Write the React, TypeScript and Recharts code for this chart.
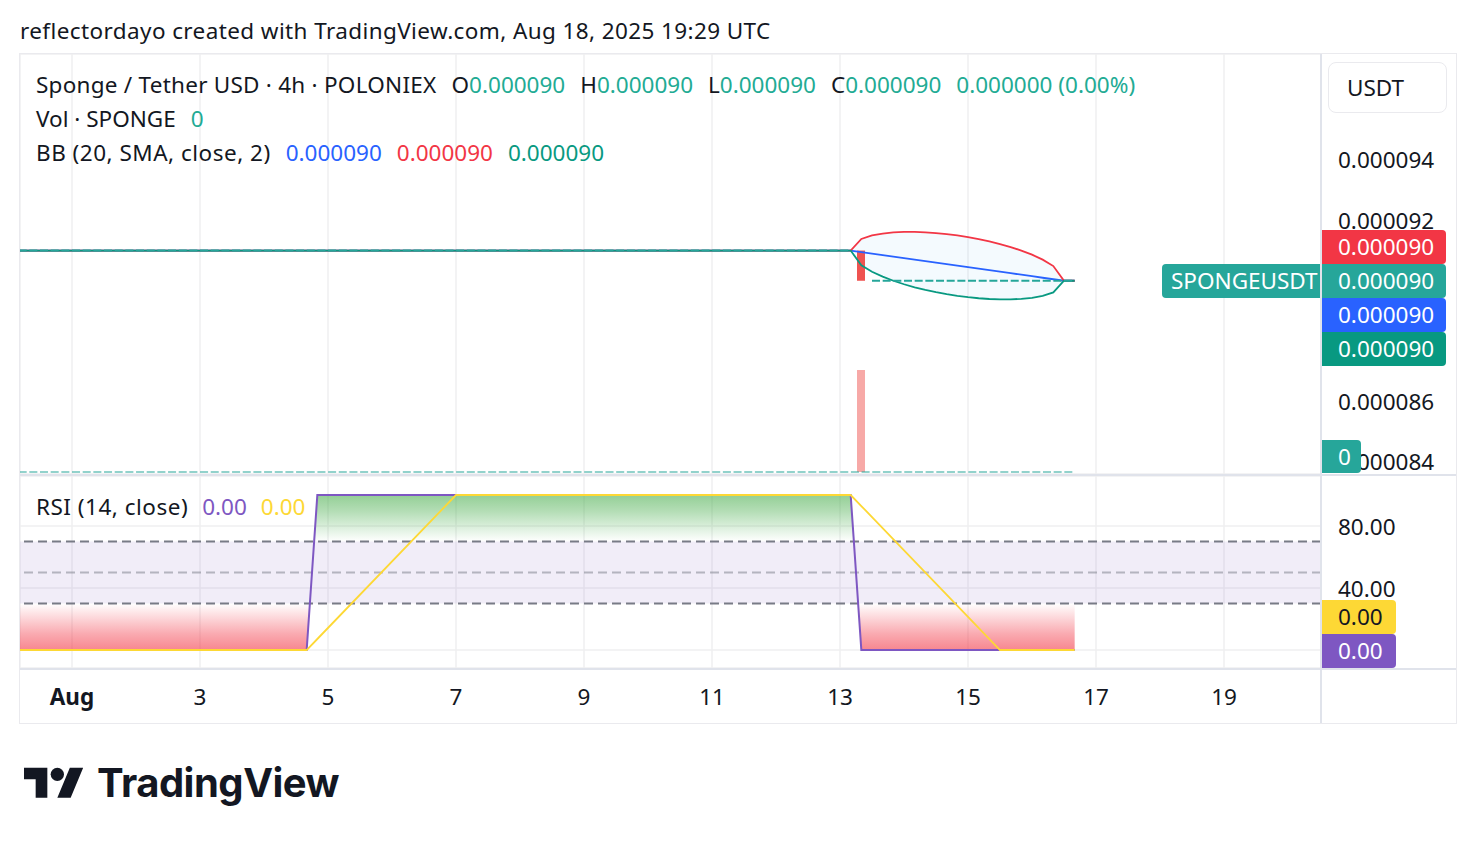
import React from "react";
import {
  ComposedChart,
  Line,
  Area,
  Bar,
  XAxis,
  YAxis,
  CartesianGrid,
  ReferenceArea,
  ReferenceLine,
} from "recharts";

const FONT = '"Noto Sans", "DejaVu Sans", sans-serif';
const TEXT = "#131722";
const FS = 22.5;

// ---------- time axis (days since Aug 1, 2025 00:00 UTC, 4h bars) ----------
const dayTicks = [0, 2, 4, 6, 8, 10, 12, 14, 16, 18];
const dayTickLabels = ["Aug", "3", "5", "7", "9", "11", "13", "15", "17", "19"];
const X_DOMAIN: [number, number] = [-0.8125, 19.5156];

// ---------- price pane (values in µUSDT) ----------
const bbTimes = [
  -1, 12.1667, 12.3333, 12.5, 12.6667, 12.8333, 13, 13.1667, 13.3333, 13.5, 13.6667,
  13.8333, 14, 14.1667, 14.3333, 14.5, 14.6667, 14.8333, 15, 15.1667, 15.3333, 15.5, 15.6667,
];
const bbUpper = [
  91, 91, 91.386, 91.5, 91.564, 91.6, 91.616, 91.617, 91.604, 91.58, 91.545, 91.5, 91.445,
  91.38, 91.304, 91.217, 91.116, 91.0, 90.864, 90.7, 90.486, 90, 90,
];
const bbBasis = [
  91, 91, 90.95, 90.9, 90.85, 90.8, 90.75, 90.7, 90.65, 90.6, 90.55, 90.5, 90.45, 90.4,
  90.35, 90.3, 90.25, 90.2, 90.15, 90.1, 90.05, 90, 90,
];
const bbLower = [
  91, 91, 90.514, 90.3, 90.136, 90.0, 89.884, 89.783, 89.696, 89.62, 89.555, 89.5, 89.455,
  89.42, 89.396, 89.383, 89.384, 89.4, 89.436, 89.5, 89.614, 90, 90,
];

const candleTimes = [12.3333];
const candleOpen = [91];
const candleClose = [90];

const flatBeforeTimes = [-1, 12.1667];
const flatBeforeClose = [91, 91];
const flatAfterTimes = [12.5, 15.6667];
const flatAfterClose = [90, 90];

const priceTicks = [84, 86, 88, 90, 92, 94, 96];
const priceTickLabelled = [84, 86, 92, 94];
const PRICE_DOMAIN: [number, number] = [83.6, 97.51];

// ---------- volume ----------
const volumeTimes = [12.3333];
const volumeValues = [1];
const zeroVolumeTimes = [-1, 15.6667];
const zeroVolumeValues = [0, 0];
const VOL_DOMAIN: [number, number] = [-0.0196, 4.098];

// ---------- RSI ----------
const rsiTimes = [-1, 3.6667, 3.8333, 6, 12.1667, 12.3333, 14.5, 15.6667];
const rsiValues = [0, 0, 100, 100, 100, 0, 0, 0];
const rsiMaValues = [0, 0, 7.1, 100, 100, 92.9, 0, 0];
const rsiTicks = [0, 40, 80];
const rsiTickLabelled = [40, 80];
const RSI_DOMAIN: [number, number] = [-11.61, 112.26];

// ---------- layout ----------
const CHART_LEFT = 20;
const CHART_W = 1436;
const AXIS_W = 135;
const MAIN_TOP = 54;
const MAIN_H = 420;
const RSI_TOP = 476;
const RSI_H = 192;
const TIME_H = 55;

const fmtPrice = (v: number) => (v / 1e6).toFixed(6);
const priceY = (v: number) =>
  MAIN_TOP + ((PRICE_DOMAIN[1] - v) / (PRICE_DOMAIN[1] - PRICE_DOMAIN[0])) * MAIN_H;
const rsiChartY = (v: number) => ((RSI_DOMAIN[1] - v) / (RSI_DOMAIN[1] - RSI_DOMAIN[0])) * RSI_H;

function buildRows(series: Array<[string, number[], any[]]>) {
  const map = new Map<number, any>();
  for (const [key, ts, vs] of series) {
    ts.forEach((t, i) => {
      const row = map.get(t) ?? { t };
      row[key] = vs[i];
      map.set(t, row);
    });
  }
  return Array.from(map.values()).sort((a, b) => a.t - b.t);
}

const mainData = buildRows([
  ["upper", bbTimes, bbUpper],
  ["basis", bbTimes, bbBasis],
  ["lower", bbTimes, bbLower],
  ["band", bbTimes, bbTimes.map((_, i) => [bbLower[i], bbUpper[i]])],
  ["candle", candleTimes, candleTimes.map((_, i) => [Math.min(candleOpen[i], candleClose[i]), Math.max(candleOpen[i], candleClose[i])])],
  ["flatBefore", flatBeforeTimes, flatBeforeClose],
  ["flatAfter", flatAfterTimes, flatAfterClose],
  ["vol", volumeTimes, volumeValues],
  ["zeroVol", zeroVolumeTimes, zeroVolumeValues],
]);

const rsiData = buildRows([
  ["rsi", rsiTimes, rsiValues],
  ["ma", rsiTimes, rsiMaValues],
]);

const PriceTick = (props: any) => {
  const { x, y, payload } = props;
  if (!priceTickLabelled.includes(payload.value)) return <g />;
  return (
    <text x={x + 17} y={y} dominantBaseline="central" fontSize={FS} fontFamily={FONT} fill={TEXT}>
      {fmtPrice(payload.value)}
    </text>
  );
};

const RsiTick = (props: any) => {
  const { x, y, payload } = props;
  if (!rsiTickLabelled.includes(payload.value)) return <g />;
  return (
    <text x={x + 17} y={y} dominantBaseline="central" fontSize={FS} fontFamily={FONT} fill={TEXT}>
      {payload.value.toFixed(2)}
    </text>
  );
};

const TimeTick = (props: any) => {
  const { x, y, payload } = props;
  const i = dayTicks.indexOf(payload.value);
  return (
    <text
      x={x}
      y={y + 28}
      textAnchor="middle"
      dominantBaseline="central"
      fontSize={FS}
      fontFamily={FONT}
      fontWeight={i === 0 ? 700 : 400}
      fill={TEXT}
    >
      {dayTickLabels[i]}
    </text>
  );
};

const abs = (s: React.CSSProperties): React.CSSProperties => ({ position: "absolute", ...s });

const Badge = ({ left, top, width, height = 34, bg, color = "#fff", text, radius = "0 4px 4px 0", pad = 16 }: any) => (
  <div
    style={abs({
      left,
      top,
      width,
      height,
      background: bg,
      color,
      borderRadius: radius,
      fontSize: FS,
      lineHeight: `${height}px`,
      paddingLeft: pad,
      boxSizing: "border-box",
      whiteSpace: "nowrap",
    })}
  >
    {text}
  </div>
);

const Seg = ({ children, color = TEXT, gap = 15, ls = 0 }: any) => (
  <span style={{ color, marginRight: gap, letterSpacing: ls }}>{children}</span>
);

export default function App() {
  const lastPrice = flatAfterClose[flatAfterClose.length - 1];
  const pc = priceY(lastPrice);
  const up = "#22AB94";
  const lastRsi = rsiValues[rsiValues.length - 1];
  const lastMa = rsiMaValues[rsiMaValues.length - 1];
  const lastUpper = bbUpper[bbUpper.length - 1];
  const lastBasis = bbBasis[bbBasis.length - 1];
  const lastLower = bbLower[bbLower.length - 1];
  const lastVol = zeroVolumeValues[zeroVolumeValues.length - 1];

  return (
    <div
      style={abs({
        left: 0,
        top: 0,
        width: 1476,
        height: 844,
        background: "#fff",
        fontFamily: FONT,
        color: TEXT,
        overflow: "hidden",
      })}
    >
      <div style={abs({ left: 20, top: 14, height: 34, lineHeight: "34px", fontSize: FS, letterSpacing: 0.4, whiteSpace: "nowrap" })}>
        reflectordayo created with TradingView.com, Aug 18, 2025 19:29 UTC
      </div>

      {/* frame */}
      <div style={abs({ left: 19, top: 53, width: 1438, height: 671, border: "1px solid #EAEAEE", boxSizing: "border-box" })} />

      {/* volume layer + grid */}
      <div style={abs({ left: CHART_LEFT, top: MAIN_TOP })}>
        <ComposedChart width={CHART_W} height={MAIN_H} data={mainData} margin={{ top: 0, right: 0, bottom: 0, left: 0 }}>
          <XAxis dataKey="t" type="number" domain={X_DOMAIN} ticks={dayTicks} interval={0} allowDataOverflow hide />
          <YAxis
            orientation="right"
            width={AXIS_W}
            type="number"
            domain={PRICE_DOMAIN}
            ticks={priceTicks}
            allowDataOverflow
            tick={false}
            axisLine={false}
            tickLine={false}
          />
          <YAxis yAxisId="v" type="number" domain={VOL_DOMAIN} allowDataOverflow hide />
          <CartesianGrid stroke="#EFEFF1" strokeWidth={1.5} />
          <Line
            yAxisId="v"
            dataKey="zeroVol"
            type="linear"
            stroke="rgba(38,166,154,0.5)"
            strokeWidth={2}
            strokeDasharray="8 2.67"
            dot={false}
            activeDot={false}
            connectNulls
            isAnimationActive={false}
          />
          <Bar yAxisId="v" dataKey="vol" barSize={8} fill="rgba(239,83,80,0.5)" isAnimationActive={false} />
        </ComposedChart>
      </div>

      {/* price layer */}
      <div style={abs({ left: CHART_LEFT, top: MAIN_TOP })}>
        <ComposedChart width={CHART_W} height={MAIN_H} data={mainData} margin={{ top: 0, right: 0, bottom: 0, left: 0 }}>
          <XAxis dataKey="t" type="number" domain={X_DOMAIN} ticks={dayTicks} interval={0} allowDataOverflow hide />
          <YAxis
            orientation="right"
            width={AXIS_W}
            type="number"
            domain={PRICE_DOMAIN}
            ticks={priceTicks}
            interval={0}
            allowDataOverflow
            tick={<PriceTick />}
            axisLine={false}
            tickLine={false}
            tickSize={0}
            tickMargin={0}
          />
          <Area dataKey="band" type="linear" fill="#2196F3" fillOpacity={0.05} stroke="none" connectNulls isAnimationActive={false} activeDot={false} />
          <Line dataKey="basis" type="linear" stroke="#2962FF" strokeWidth={1.8} dot={false} activeDot={false} connectNulls isAnimationActive={false} />
          <Line dataKey="upper" type="linear" stroke="#F23645" strokeWidth={1.8} dot={false} activeDot={false} connectNulls isAnimationActive={false} />
          <Line dataKey="lower" type="linear" stroke="#089981" strokeWidth={1.8} dot={false} activeDot={false} connectNulls isAnimationActive={false} />
          <Line dataKey="flatBefore" type="linear" stroke="#26A69A" strokeWidth={2} strokeDasharray="8 2.67" dot={false} activeDot={false} connectNulls isAnimationActive={false} />
          <Line dataKey="flatAfter" type="linear" stroke="#26A69A" strokeWidth={2} strokeDasharray="8 2.67" dot={false} activeDot={false} connectNulls isAnimationActive={false} />
          <Bar dataKey="candle" barSize={8} fill="#EF5350" isAnimationActive={false} />
        </ComposedChart>
      </div>

      {/* RSI pane + time axis */}
      <div style={abs({ left: CHART_LEFT, top: RSI_TOP })}>
        <ComposedChart width={CHART_W} height={RSI_H + TIME_H} data={rsiData} margin={{ top: 0, right: 0, bottom: 0, left: 0 }}>
          <defs>
            <linearGradient id="rsiUp" gradientUnits="userSpaceOnUse" x1="0" y1={rsiChartY(100)} x2="0" y2={rsiChartY(70)}>
              <stop offset="0" stopColor="#4CAF50" stopOpacity={1} />
              <stop offset="0.35" stopColor="#4CAF50" stopOpacity={0.7} />
              <stop offset="1" stopColor="#4CAF50" stopOpacity={0} />
            </linearGradient>
            <linearGradient id="rsiDown" gradientUnits="userSpaceOnUse" x1="0" y1={rsiChartY(30)} x2="0" y2={rsiChartY(0)}>
              <stop offset="0" stopColor="#F23645" stopOpacity={0} />
              <stop offset="0.65" stopColor="#F23645" stopOpacity={0.7} />
              <stop offset="1" stopColor="#F23645" stopOpacity={1} />
            </linearGradient>
          </defs>
          <XAxis
            dataKey="t"
            type="number"
            domain={X_DOMAIN}
            ticks={dayTicks}
            interval={0}
            allowDataOverflow
            height={TIME_H}
            axisLine={false}
            tickLine={false}
            tickSize={0}
            tickMargin={0}
            tick={<TimeTick />}
          />
          <YAxis
            orientation="right"
            width={AXIS_W}
            type="number"
            domain={RSI_DOMAIN}
            ticks={rsiTicks}
            interval={0}
            allowDataOverflow
            tick={<RsiTick />}
            axisLine={false}
            tickLine={false}
            tickSize={0}
            tickMargin={0}
          />
          <CartesianGrid stroke="#EFEFF1" strokeWidth={1.5} />
          <ReferenceArea y1={30} y2={70} fill="#7E57C2" fillOpacity={0.11} stroke="none" />
          <Area dataKey="rsi" type="linear" baseValue={70} fill="url(#rsiUp)" stroke="none" isAnimationActive={false} activeDot={false} />
          <Area dataKey="rsi" type="linear" baseValue={30} fill="url(#rsiDown)" stroke="none" isAnimationActive={false} activeDot={false} />
          <ReferenceLine y={70} stroke="#787B86" strokeWidth={2} strokeDasharray="9 5" />
          <ReferenceLine y={50} stroke="rgba(120,123,134,0.5)" strokeWidth={2} strokeDasharray="9 5" />
          <ReferenceLine y={30} stroke="#787B86" strokeWidth={2} strokeDasharray="9 5" />
          <Line dataKey="rsi" type="linear" stroke="#7E57C2" strokeWidth={2} dot={false} activeDot={false} isAnimationActive={false} />
          <Line dataKey="ma" type="linear" stroke="#FDD835" strokeWidth={1.8} dot={false} activeDot={false} isAnimationActive={false} />
        </ComposedChart>
      </div>

      {/* pane dividers */}
      <div style={abs({ left: 1320, top: 54, width: 2, height: 669, background: "#E0E3EB" })} />
      <div style={abs({ left: 20, top: 474, width: 1436, height: 2, background: "#E0E3EB" })} />
      <div style={abs({ left: 20, top: 668, width: 1436, height: 2, background: "#E0E3EB" })} />

      {/* legends */}
      <div style={abs({ left: 36, top: 68, height: 34, lineHeight: "34px", fontSize: FS, whiteSpace: "nowrap" })}>
        <Seg ls={0.25}>Sponge / Tether USD · 4h · POLONIEX</Seg>
        <Seg>O<span style={{ color: up }}>{fmtPrice(90)}</span></Seg>
        <Seg>H<span style={{ color: up }}>{fmtPrice(90)}</span></Seg>
        <Seg>L<span style={{ color: up }}>{fmtPrice(90)}</span></Seg>
        <Seg>C<span style={{ color: up }}>{fmtPrice(lastPrice)}</span></Seg>
        <Seg color={up}>0.000000 (0.00%)</Seg>
      </div>
      <div style={abs({ left: 36, top: 102, height: 34, lineHeight: "34px", fontSize: FS, whiteSpace: "nowrap" })}>
        <Seg>Vol · SPONGE</Seg>
        <Seg color={up}>{String(lastVol)}</Seg>
      </div>
      <div style={abs({ left: 36, top: 136, height: 34, lineHeight: "34px", fontSize: FS, whiteSpace: "nowrap" })}>
        <Seg ls={0.5}>BB (20, SMA, close, 2)</Seg>
        <Seg color="#2962FF">{fmtPrice(lastBasis)}</Seg>
        <Seg color="#F23645">{fmtPrice(lastUpper)}</Seg>
        <Seg color="#089981">{fmtPrice(lastLower)}</Seg>
      </div>
      <div style={abs({ left: 36, top: 490, height: 34, lineHeight: "34px", fontSize: FS, whiteSpace: "nowrap" })}>
        <Seg gap={14} ls={0.5}>RSI (14, close)</Seg>
        <Seg gap={14} color="#7E57C2">{lastRsi.toFixed(2)}</Seg>
        <Seg gap={14} color="#FDD835">{lastMa.toFixed(2)}</Seg>
      </div>

      {/* currency box */}
      <div
        style={abs({
          left: 1328,
          top: 62,
          width: 119,
          height: 51,
          border: "1px solid #EAEAEE",
          borderRadius: 8,
          boxSizing: "border-box",
          fontSize: FS,
          lineHeight: "49px",
          paddingLeft: 18,
        })}
      >
        USDT
      </div>

      {/* price scale badges */}
      <Badge left={1162} top={pc - 17} width={158} bg="#26A69A" text="SPONGEUSDT" radius="4px 0 0 4px" pad={9} />
      <Badge left={1322} top={pc - 51} width={124} bg="#F23645" text={fmtPrice(lastUpper)} />
      <Badge left={1322} top={pc - 17} width={124} bg="#26A69A" text={fmtPrice(lastPrice)} />
      <Badge left={1322} top={pc + 17} width={124} bg="#2962FF" text={fmtPrice(lastBasis)} />
      <Badge left={1322} top={pc + 51} width={124} bg="#089981" text={fmtPrice(lastLower)} />
      <Badge left={1322} top={440} width={39} height={33} bg="#26A69A" text={String(lastVol)} />

      {/* RSI badges */}
      <Badge left={1322} top={RSI_TOP + RSI_H - 68} width={74} bg="#FDD835" color={TEXT} text={lastMa.toFixed(2)} />
      <Badge left={1322} top={RSI_TOP + RSI_H - 34} width={74} bg="#7E57C2" text={lastRsi.toFixed(2)} />

      {/* TradingView logo */}
      <svg style={abs({ left: 24, top: 761 })} width={60} height={46.7} viewBox="0 0 36 28">
        <path d="M14 22H7V11H0V4h14v18zM28 22h-8l7.5-18h8L28 22z" fill="#131722" />
        <circle cx="20" cy="8" r="4" fill="#131722" />
      </svg>
      <div
        style={abs({
          left: 97,
          top: 763,
          height: 40,
          lineHeight: "40px",
          fontSize: 40,
          fontWeight: 700,
          fontFamily: "Inter, sans-serif",
          letterSpacing: -0.5,
          color: "#131722",
          whiteSpace: "nowrap",
        })}
      >
        TradingView
      </div>
    </div>
  );
}
